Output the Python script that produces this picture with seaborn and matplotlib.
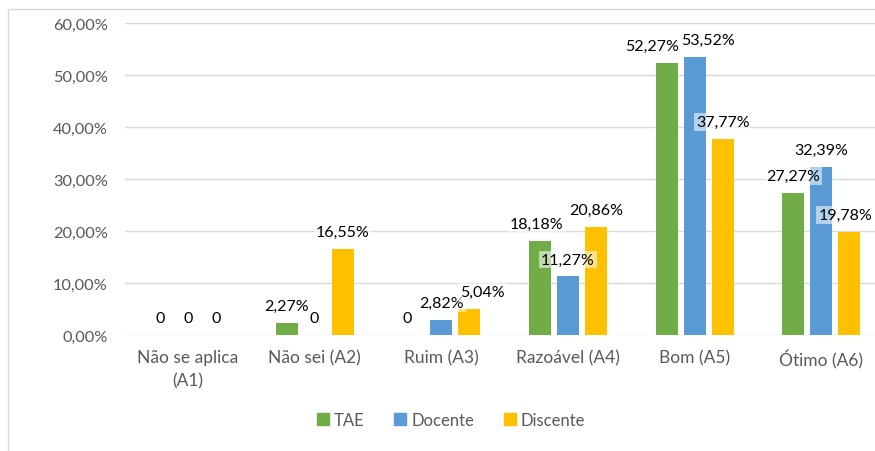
import matplotlib
matplotlib.use("Agg")
import matplotlib.pyplot as plt
import matplotlib.ticker as mticker
from matplotlib.patches import Rectangle
import pandas as pd
import seaborn as sns

categories = ["Não se aplica\n(A1)", "Não sei (A2)", "Ruim (A3)", "Razoável (A4)", "Bom (A5)", "Ótimo (A6)"]
series = ["TAE", "Docente", "Discente"]
tae = [0, 2.27, 0, 18.18, 52.27, 27.27]
docente = [0, 0, 2.82, 11.27, 53.52, 32.39]
discente = [0, 16.55, 5.04, 20.86, 37.77, 19.78]
colors = ["#70AD47", "#5B9BD5", "#FFC000"]
y_ticks = [0, 10, 20, 30, 40, 50, 60]

# horizontal label nudges in pixels, (series index, category index)
label_nudge = {(0, 4): -15, (1, 4): 13, (2, 2): 13, (0, 3): -3, (2, 5): -4, (0, 2): -6}

df = pd.DataFrame({
    "categoria": categories * 3,
    "grupo": [s for s in series for _ in categories],
    "valor": tae + docente + discente,
})

sns.set_style("white")
plt.rcParams["font.family"] = ["Lato", "DejaVu Sans"]

fig = plt.figure(figsize=(8.75, 4.52), dpi=100)
ax = fig.add_axes([0.1424, 0.2566, 0.8686, 0.690])

sns.barplot(data=df, x="categoria", y="valor", hue="grupo", order=categories,
            hue_order=series, palette=colors, width=0.663, gap=0.215,
            saturation=1, linewidth=0, ax=ax, legend=True)

ax.set_ylim(0, 60)
ax.set_xlim(-0.5, 5.5)
ax.set_yticks(y_ticks)
ax.yaxis.set_major_formatter(mticker.FuncFormatter(lambda v, p: f"{v:.2f}%".replace(".", ",")))
ax.grid(axis="y", color="#d9d9d9", linewidth=1)
ax.set_axisbelow(True)
for s in ax.spines.values():
    s.set_visible(False)
ax.tick_params(axis="both", length=0, colors="#595959")
ax.tick_params(axis="x", pad=10, labelsize=12.5)
ax.tick_params(axis="y", pad=12, labelsize=11.8)
for t in ax.get_xticklabels():
    t.set_linespacing(1.55)
ax.set_xlabel("")
ax.set_ylabel("")

for si, cont in enumerate(ax.containers):
    for ci, bar in enumerate(cont):
        v = bar.get_height()
        txt = "0" if v == 0 else f"{v:.2f}%".replace(".", ",")
        ax.annotate(txt, (bar.get_x() + bar.get_width() / 2, v),
                    xytext=(label_nudge.get((si, ci), 0), 17), textcoords="offset pixels",
                    ha="center", va="center", fontsize=11.5, color="#000000",
                    bbox=dict(boxstyle="square,pad=0.12", fc="white", ec="none", alpha=0.55))

ax.get_legend().remove()
handles = [Rectangle((0, 0), 1, 1, color=c) for c in colors]
fig.legend(handles, series, loc="center", bbox_to_anchor=(451 / 875, 1 - 421 / 452),
           ncol=3, frameon=False, handlelength=0.7, handleheight=0.7,
           handletextpad=0.3, columnspacing=1.8, fontsize=12, labelcolor="#595959")

fig.patches.append(Rectangle((8 / 875, -0.1), 1.2, (452 - 10) / 452 + 0.1,
                             transform=fig.transFigure, fill=False,
                             edgecolor="#d9d9d9", linewidth=1))

fig.savefig("out.png", dpi=100)
